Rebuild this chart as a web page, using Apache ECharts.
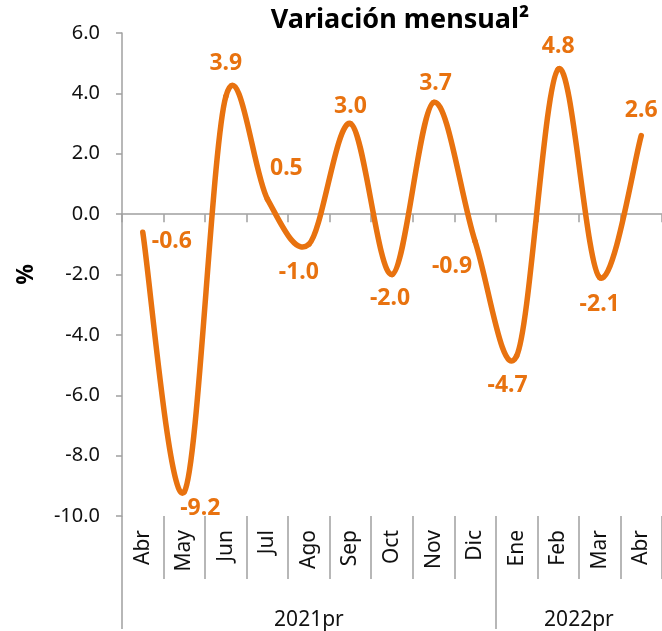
<!DOCTYPE html>
<html>
<head>
<meta charset="utf-8">
<script src="https://cdn.jsdelivr.net/npm/echarts@6/dist/echarts.min.js"></script>
<style>
  html, body { margin: 0; padding: 0; background: #fff; }
  #chart { width: 662px; height: 631px; }
</style>
</head>
<body>
<div id="chart"></div>
<script>
// datos
const months = ['Abr', 'May', 'Jun', 'Jul', 'Ago', 'Sep', 'Oct', 'Nov', 'Dic', 'Ene', 'Feb', 'Mar', 'Abr']
const values = [-0.6, -9.2, 3.9, 0.5, -1.0, 3.0, -2.0, 3.7, -0.9, -4.7, 4.8, -2.1, 2.6]
const years = ['2021pr', '2022pr']
const monthsPerYear = [9, 4]

const orange = '#E8720F'
const axisGray = '#a0a0a0'
const font = 'Noto Sans'

// posición de cada etiqueta: [position, distance, dx, dy]
const labelPlace = [
  ['right', 9, 0, 9],
  ['bottom', 5, 16, 0],
  ['top', 21, 0, 0],
  ['top', 19, 19, 0],
  ['bottom', 17, -10, 0],
  ['top', 6, 0, 0],
  ['bottom', 12, -2, 0],
  ['top', 7, 2, 0],
  ['bottom', 14, -23, 0],
  ['bottom', 18, -9, 0],
  ['top', 11, 0, 0],
  ['bottom', 15, 0, 0],
  ['top', 14, 0, 0]
]

// limites y centros de los grupos de años
const bounds = [0]
monthsPerYear.forEach(n => bounds.push(bounds[bounds.length - 1] + n))
const yearCenters = years.map((_, i) => (bounds[i] + bounds[i + 1]) / 2)

// curva suavizada tipo Excel (Catmull-Rom) entre el punto i y el i+1
function renderSegment(params, api) {
  const i = params.dataIndex
  const last = values.length - 1
  if (i >= last) return { type: 'group', children: [] }
  const pt = k => {
    const j = Math.max(0, Math.min(last, k))
    return api.coord([j, values[j]])
  }
  const p0 = pt(i - 1), p1 = pt(i), p2 = pt(i + 1), p3 = pt(i + 2)
  return {
    type: 'bezierCurve',
    shape: {
      x1: p1[0], y1: p1[1],
      x2: p2[0], y2: p2[1],
      cpx1: p1[0] + (p2[0] - p0[0]) / 6,
      cpy1: p1[1] + (p2[1] - p0[1]) / 6,
      cpx2: p2[0] - (p3[0] - p1[0]) / 6,
      cpy2: p2[1] - (p3[1] - p1[1]) / 6
    },
    style: { stroke: orange, lineWidth: 5.5, fill: null, lineCap: 'round', lineJoin: 'round' }
  }
}

const chart = echarts.init(document.getElementById('chart'))

chart.setOption({
  animation: false,
  textStyle: { fontFamily: font },
  title: {
    text: 'Variación mensual²',
    left: 395,
    top: 2,
    textAlign: 'center',
    textStyle: { fontFamily: font, fontSize: 27, fontWeight: 'bold', color: '#000' }
  },
  grid: { left: 122, right: -4, top: 33, bottom: 113 },
  xAxis: [
    {
      // eje en cero
      type: 'category',
      data: months,
      axisLine: { onZero: true, lineStyle: { color: axisGray, width: 1.5 } },
      axisTick: { show: true, interval: 0, length: 8, lineStyle: { color: axisGray, width: 1.5 } },
      axisLabel: { show: false },
      splitLine: { show: false }
    },
    {
      // meses abajo
      type: 'category',
      data: months,
      position: 'bottom',
      axisLine: { show: false, onZero: false },
      axisTick: { show: true, interval: 0, length: 63, lineStyle: { color: axisGray, width: 1.5 } },
      axisLabel: {
        interval: 0,
        rotate: 90,
        margin: 14,
        fontSize: 21,
        fontFamily: font,
        color: '#111'
      },
      splitLine: { show: false }
    },
    {
      // años
      type: 'value',
      min: 0,
      max: bounds[bounds.length - 1],
      position: 'bottom',
      axisLine: { show: false, onZero: false },
      axisTick: {
        show: true,
        customValues: bounds.slice(0, -1),
        length: 113,
        lineStyle: { color: axisGray, width: 1.5 }
      },
      axisLabel: {
        customValues: yearCenters,
        formatter: v => years[yearCenters.indexOf(v)] || '',
        margin: 94,
        fontSize: 21,
        fontFamily: font,
        color: '#111'
      },
      splitLine: { show: false }
    }
  ],
  yAxis: {
    type: 'value',
    min: -10,
    max: 6,
    interval: 2,
    name: '%',
    nameLocation: 'middle',
    nameRotate: 90,
    nameGap: 84,
    nameTextStyle: { fontFamily: font, fontSize: 23, fontWeight: 'bold', color: '#000' },
    axisLine: { show: true, lineStyle: { color: axisGray, width: 1.5 } },
    axisTick: { show: true, length: 6, lineStyle: { color: axisGray, width: 1.5 } },
    axisLabel: {
      formatter: v => v.toFixed(1),
      margin: 22,
      fontSize: 20,
      fontFamily: font,
      color: '#111'
    },
    splitLine: { show: false }
  },
  series: [
    {
      // línea suavizada
      type: 'custom',
      xAxisIndex: 0,
      data: values.map((v, i) => [i, v]),
      renderItem: renderSegment,
      silent: true,
      z: 2
    },
    {
      // etiquetas de datos
      type: 'line',
      xAxisIndex: 0,
      data: values.map((v, i) => ({
        value: v,
        label: {
          position: labelPlace[i][0],
          distance: labelPlace[i][1],
          offset: [labelPlace[i][2], labelPlace[i][3]]
        }
      })),
      symbol: 'circle',
      symbolSize: 0.1,
      lineStyle: { opacity: 0 },
      itemStyle: { color: orange },
      label: {
        show: true,
        formatter: p => p.value.toFixed(1),
        fontFamily: font,
        fontSize: 23,
        fontWeight: 'bold',
        color: orange
      },
      z: 3
    }
  ]
})
</script>
</body>
</html>
